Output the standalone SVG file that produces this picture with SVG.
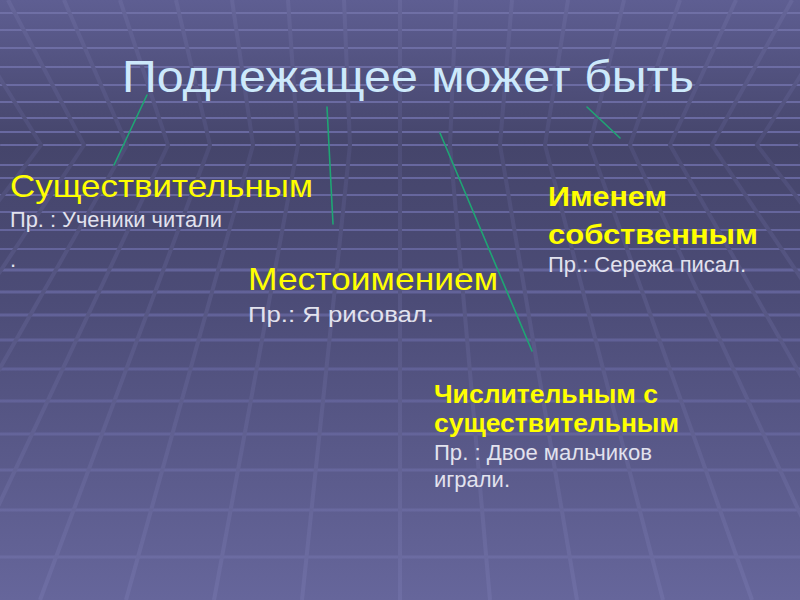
<svg xmlns="http://www.w3.org/2000/svg" width="800" height="600" viewBox="0 0 800 600">
<defs>
<linearGradient id="bg" x1="0" y1="0" x2="0" y2="600" gradientUnits="userSpaceOnUse">
<stop offset="0" stop-color="#5e5e92"/>
<stop offset="0.24" stop-color="#45456b"/>
<stop offset="0.5" stop-color="#4c4c77"/>
<stop offset="1" stop-color="#66669b"/>
</linearGradient>
<linearGradient id="gs" x1="0" y1="0" x2="0" y2="600" gradientUnits="userSpaceOnUse">
<stop offset="0" stop-color="#66669a"/>
<stop offset="0.24" stop-color="#4d4d77"/>
<stop offset="0.6" stop-color="#5a5a89"/>
<stop offset="1" stop-color="#6e6ea4"/>
</linearGradient>
<linearGradient id="gh" x1="0" y1="0" x2="0" y2="600" gradientUnits="userSpaceOnUse">
<stop offset="0" stop-color="#7070a6"/>
<stop offset="0.24" stop-color="#6868a0"/>
<stop offset="0.6" stop-color="#606096"/>
<stop offset="1" stop-color="#6e6ea4"/>
</linearGradient>
<style>
.t{font-family:"Liberation Sans",Arial,sans-serif;}
.title{font-size:44px;fill:#cde9fb;}
.y{fill:#ffff00;font-size:32px;}
.yb{fill:#ffff00;font-size:26px;font-weight:bold;}
.yb2{fill:#ffff00;font-size:28px;font-weight:bold;}
.ex{fill:#e2e2ee;font-size:22px;}
.h{stroke:url(#gh);fill:none;}
.s{stroke:url(#gs);fill:none;stroke-width:4;}
.c{stroke:#1fa574;stroke-width:1.6;stroke-linecap:round;fill:none;}
</style>
</defs>
<rect width="800" height="600" fill="url(#bg)"/>
<g id="background-grid">
<g class="h" stroke-width="2">
<path d="M0 13H800M0 30H800M0 48H800M0 67H800M0 85H800M0 102H800M0 118H800M0 132H800M0 145H800M0 165H800M0 178H800M0 195H800M0 212H800M0 230H800M0 249H800"/>
</g>
<g class="h" stroke-width="3">
<path d="M0 270H800M0 292H800M0 315H800M0 340H800M0 369H800M0 401H800M0 434H800M0 470H800M0 510H800M0 557H800"/>
</g>
<g class="s">
<path d="M-104 0L-2 145L-390 600"/>
<path d="M-48 0L41 145L-304 600"/>
<path d="M8 0L84 145L-218 600"/>
<path d="M64 0L127 145L-132 600"/>
<path d="M120 0L168 145L-46 600"/>
<path d="M176 0L210 145L40 600"/>
<path d="M232 0L253 145L126 600"/>
<path d="M288 0L298 145L214 600"/>
<path d="M344 0L350 145L302 600"/>
<path d="M400 0L400 145L400 600"/>
<path d="M456 0L450 145L490 600"/>
<path d="M512 0L500 145L577 600"/>
<path d="M568 0L545 145L663 600"/>
<path d="M624 0L590 145L752 600"/>
<path d="M680 0L630 145L840 600"/>
<path d="M736 0L670 145L928 600"/>
<path d="M792 0L712 145L1016 600"/>
<path d="M848 0L757 145L1104 600"/>
<path d="M904 0L800 145L1192 600"/>
</g>
</g>
<g id="title"><text class="t title" x="122" y="92" textLength="572" lengthAdjust="spacingAndGlyphs">Подлежащее может быть</text></g>
<g id="connectors">
<line class="c" x1="147" y1="95" x2="114" y2="165"/>
<line class="c" x1="327" y1="107" x2="333" y2="224"/>
<line class="c" x1="440" y1="133" x2="532" y2="351"/>
<line class="c" x1="587" y1="107" x2="620" y2="138"/>
</g>
<g id="node-noun">
<text class="t y" x="10" y="197" textLength="303" lengthAdjust="spacingAndGlyphs">Существительным</text>
<text class="t ex" x="10" y="227" textLength="212" lengthAdjust="spacingAndGlyphs">Пр. : Ученики читали</text>
<text class="t ex" x="10" y="267">.</text>
</g>
<g id="node-pronoun">
<text class="t y" x="248" y="290" textLength="250" lengthAdjust="spacingAndGlyphs">Местоимением</text>
<text class="t ex" x="248" y="322" textLength="186" lengthAdjust="spacingAndGlyphs">Пр.: Я рисовал.</text>
</g>
<g id="node-proper">
<text class="t yb2" x="548" y="206" textLength="119" lengthAdjust="spacingAndGlyphs">Именем</text>
<text class="t yb2" x="548" y="244" textLength="210" lengthAdjust="spacingAndGlyphs">собственным</text>
<text class="t ex" x="548" y="272" textLength="198" lengthAdjust="spacingAndGlyphs">Пр.: Сережа писал.</text>
</g>
<g id="node-numeral">
<text class="t yb" x="434" y="403" textLength="224" lengthAdjust="spacingAndGlyphs">Числительным с</text>
<text class="t yb" x="434" y="432" textLength="245" lengthAdjust="spacingAndGlyphs">существительным</text>
<text class="t ex" x="434" y="460" textLength="218" lengthAdjust="spacingAndGlyphs">Пр. : Двое мальчиков</text>
<text class="t ex" x="434" y="487" textLength="76" lengthAdjust="spacingAndGlyphs">играли.</text>
</g>
</svg>
